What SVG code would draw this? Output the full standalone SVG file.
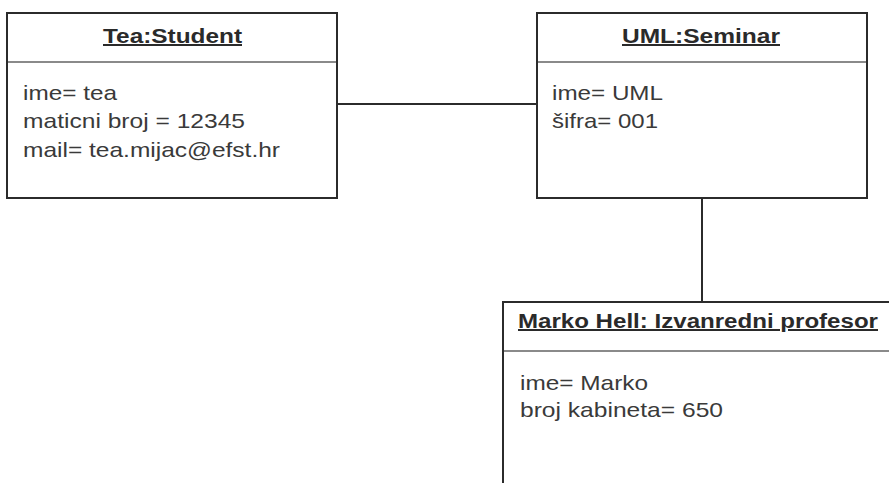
<svg xmlns="http://www.w3.org/2000/svg" width="889" height="483" viewBox="0 0 889 483">
<style>
.box{fill:#fff;stroke:#2b2b2b;stroke-width:2}
.div{stroke:#8a8a8a;stroke-width:2}
.title{font-family:"Liberation Sans",Arial,sans-serif;font-weight:bold;font-size:20px;fill:#2a2a2a;text-decoration:underline}
.attr{font-family:"Liberation Sans",Arial,sans-serif;font-size:21px;fill:#3a3a3a}
.conn{stroke:#2b2b2b;stroke-width:2;fill:none}
</style>
<rect width="889" height="483" fill="#fff"/>
<g id="connectors">
<line class="conn" x1="337" y1="104" x2="537" y2="104"/>
<line class="conn" x1="702" y1="198" x2="702" y2="302"/>
</g>
<g id="student">
<rect class="box" x="7" y="13" width="330" height="185"/>
<line class="div" x1="8" y1="62" x2="336" y2="62"/>
<text class="title" x="103" y="43" textLength="139" lengthAdjust="spacingAndGlyphs">Tea:Student</text>
<text class="attr" x="23" y="100" textLength="94" lengthAdjust="spacingAndGlyphs">ime= tea</text>
<text class="attr" x="23" y="128" textLength="222" lengthAdjust="spacingAndGlyphs">maticni broj = 12345</text>
<text class="attr" x="23" y="157" textLength="257" lengthAdjust="spacingAndGlyphs">mail= tea.mijac@efst.hr</text>
</g>
<g id="seminar">
<rect class="box" x="537" y="13" width="330" height="185"/>
<line class="div" x1="538" y1="62" x2="866" y2="62"/>
<text class="title" x="622" y="43" textLength="158" lengthAdjust="spacingAndGlyphs">UML:Seminar</text>
<text class="attr" x="552" y="100" textLength="111" lengthAdjust="spacingAndGlyphs">ime= UML</text>
<text class="attr" x="552" y="128" textLength="106" lengthAdjust="spacingAndGlyphs">šifra= 001</text>
</g>
<g id="profesor">
<rect class="box" x="503" y="302" width="420" height="220"/>
<line class="div" x1="504" y1="351" x2="889" y2="351"/>
<text class="title" x="518" y="328" textLength="360" lengthAdjust="spacingAndGlyphs">Marko Hell: Izvanredni profesor</text>
<text class="attr" x="520" y="390" textLength="128" lengthAdjust="spacingAndGlyphs">ime= Marko</text>
<text class="attr" x="520" y="417" textLength="203" lengthAdjust="spacingAndGlyphs">broj kabineta= 650</text>
</g>
</svg>
